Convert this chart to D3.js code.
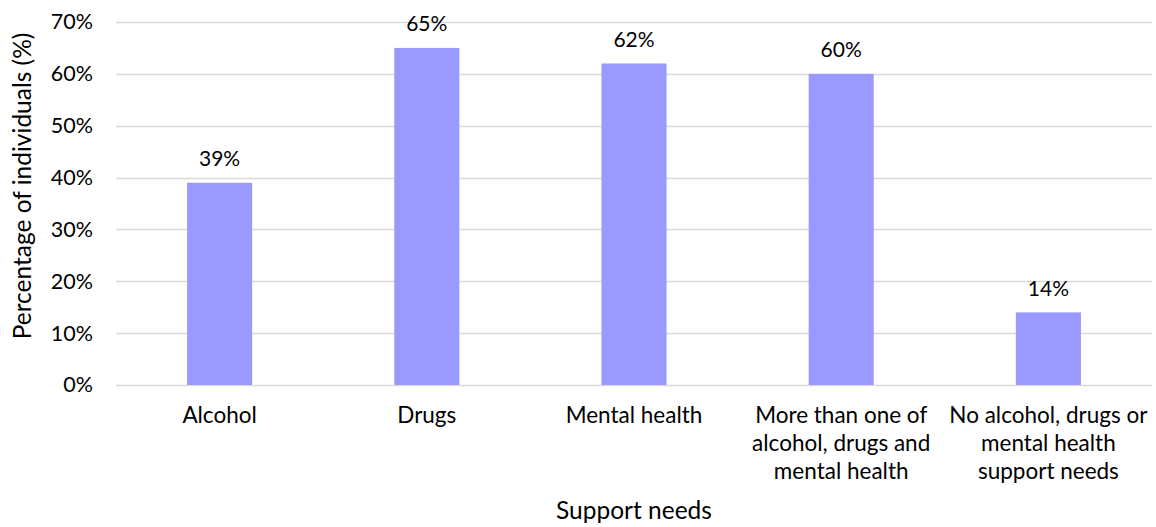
<!DOCTYPE html>
<html>
<head>
<meta charset="utf-8">
<script src="https://cdn.jsdelivr.net/npm/d3@7"></script>
<style>
  html, body { margin: 0; padding: 0; background: #fff; }
  svg text { font-family: Lato, "Open Sans", sans-serif; fill: #000; }
</style>
</head>
<body>
<svg id="chart" width="1156" height="527"></svg>
<script>
// Support needs categories (each label split into display lines)
const categories = [
  ["Alcohol"],
  ["Drugs"],
  ["Mental health"],
  ["More than one of", "alcohol, drugs and", "mental health"],
  ["No alcohol, drugs or", "mental health", "support needs"]
];
// Percentage of individuals for each category
const values = [39, 65, 62, 60, 14];
// Y axis tick values (%)
const yTicks = [0, 10, 20, 30, 40, 50, 60, 70];

const svg = d3.select("#chart");
const margin = { left: 116, right: 4, top: 22, bottom: 142 };
const W = 1156, H = 527;

const keys = categories.map(c => c.join(" "));

const x = d3.scaleBand()
  .domain(keys)
  .range([margin.left, W - margin.right])
  .paddingInner(0.686)
  .paddingOuter(0.343);

const y = d3.scaleLinear()
  .domain([0, 70])
  .range([H - margin.bottom, margin.top]);

// Horizontal gridlines
svg.append("g")
  .selectAll("line")
  .data(yTicks)
  .join("line")
  .attr("x1", margin.left)
  .attr("x2", W - margin.right)
  .attr("y1", d => Math.round(y(d)) + 0.5)
  .attr("y2", d => Math.round(y(d)) + 0.5)
  .attr("stroke", "#d9d9d9")
  .attr("stroke-width", 1.3);

// Y axis tick labels
const yAxis = d3.axisLeft(y)
  .tickValues(yTicks)
  .tickFormat(d => d + "%")
  .tickSize(0)
  .tickPadding(23);
const gy = svg.append("g")
  .attr("transform", `translate(${margin.left},0)`)
  .call(yAxis);
gy.select(".domain").remove();
gy.selectAll("text")
  .attr("font-size", 21.5)
  .attr("font-family", "Lato, sans-serif")
  .attr("fill", "#000");

// Bars
svg.append("g")
  .selectAll("rect")
  .data(values)
  .join("rect")
  .attr("x", (d, i) => x(keys[i]))
  .attr("width", x.bandwidth())
  .attr("y", d => y(d))
  .attr("height", d => y(0) - y(d))
  .attr("fill", "#9999ff");

// Value labels above bars
svg.append("g")
  .selectAll("text")
  .data(values)
  .join("text")
  .attr("x", (d, i) => x(keys[i]) + x.bandwidth() / 2)
  .attr("y", d => y(d) - 16.5)
  .attr("text-anchor", "middle")
  .attr("font-size", 21)
  .text(d => d + "%");

// Category labels (multi-line)
const catG = svg.append("g");
categories.forEach((lines, i) => {
  const t = catG.append("text")
    .attr("x", x(keys[i]) + x.bandwidth() / 2)
    .attr("y", 423)
    .attr("text-anchor", "middle")
    .attr("font-size", 22.5);
  lines.forEach((ln, j) => {
    t.append("tspan")
      .attr("x", x(keys[i]) + x.bandwidth() / 2)
      .attr("dy", j === 0 ? 0 : 28)
      .text(ln);
  });
});

// Axis titles
svg.append("text")
  .attr("x", 634)
  .attr("y", 519)
  .attr("text-anchor", "middle")
  .attr("font-size", 24.5)
  .text("Support needs");

svg.append("text")
  .attr("transform", "translate(31,186) rotate(-90)")
  .attr("text-anchor", "middle")
  .attr("font-size", 24.5)
  .text("Percentage of individuals (%)");
</script>
</body>
</html>
